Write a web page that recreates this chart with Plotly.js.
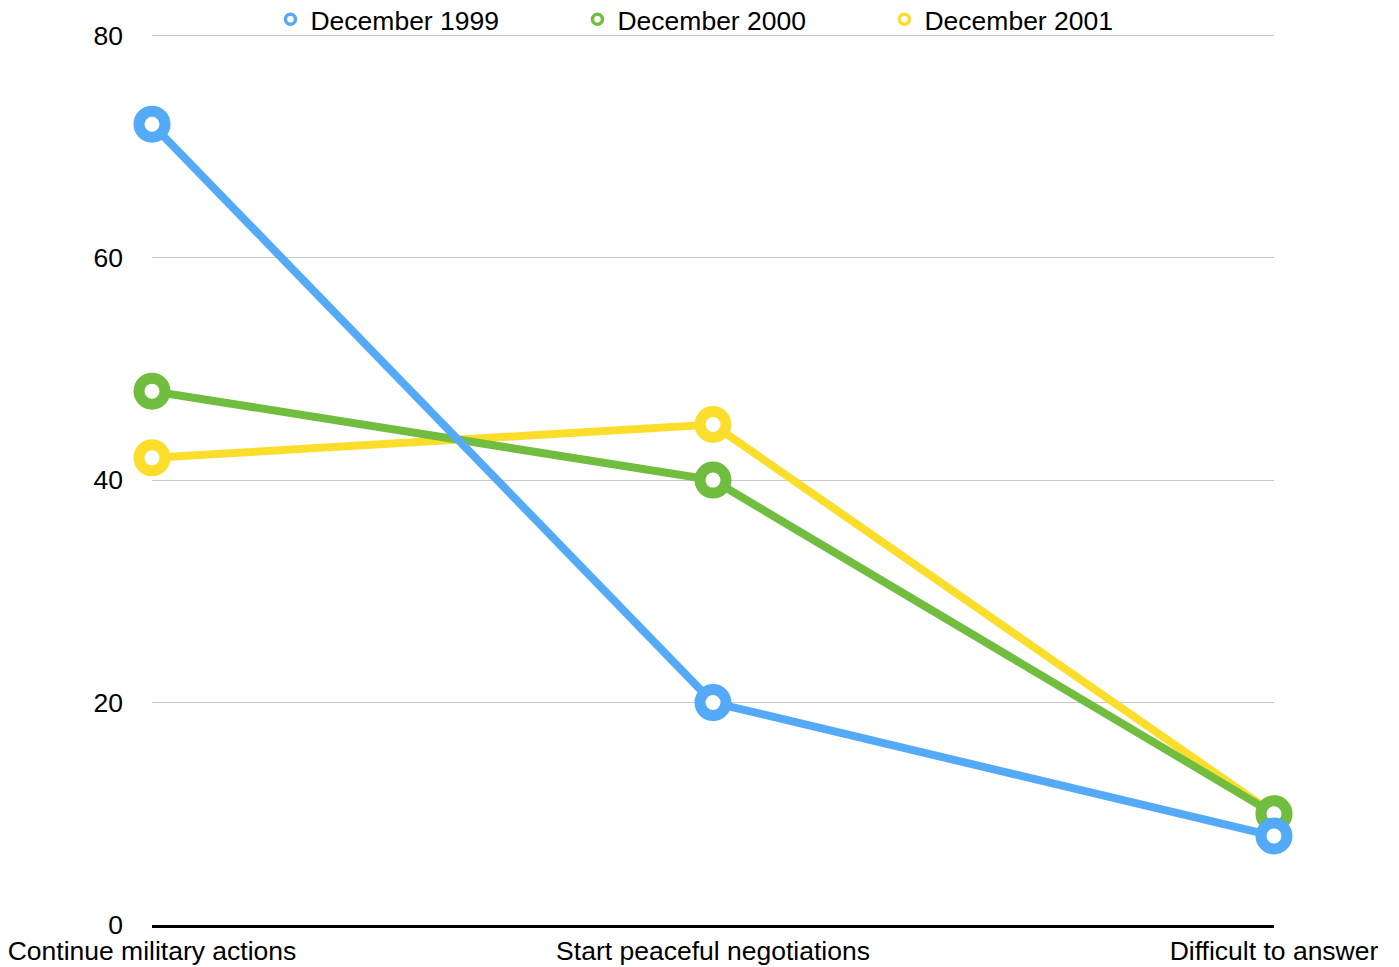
<!DOCTYPE html>
<html>
<head>
<meta charset="utf-8">
<script src="https://cdn.plot.ly/plotly-3.0.1.min.js"></script>
<style>html,body{margin:0;padding:0;background:#fff;}#chart{width:1399px;height:967px;}</style>
</head>
<body>
<div id="chart"></div>
<script>
const categories = ["Continue military actions", "Start peaceful negotiations", "Difficult to answer"];
const seriesNames = ["December 1999", "December 2000", "December 2001"];
const dec1999 = [72, 20, 8];
const dec2000 = [48, 40, 10];
const dec2001 = [42, 45, 10];
const yTicks = [0, 20, 40, 60, 80];

const colors = ["#55aaf8", "#70bd3f", "#fbde2c"];
const values = [dec1999, dec2000, dec2001];
const font = "Liberation Sans, Arial, Helvetica, sans-serif";
const fs = 26.5;

const traces = [];
// draw order: 2001 at bottom, 1999 on top
for (let i = 2; i >= 0; i--) {
  traces.push({
    x: categories, y: values[i], type: "scatter", mode: "lines+markers",
    name: seriesNames[i], showlegend: false,
    line: {color: colors[i], width: 8},
    marker: {size: 26, color: "#ffffff", line: {color: colors[i], width: 11}},
    cliponaxis: false, hoverinfo: "skip"
  });
}
// legend-only entries (markers only)
for (let i = 0; i < 3; i++) {
  traces.push({
    x: [null], y: [null], type: "scatter", mode: "markers",
    name: seriesNames[i], showlegend: true,
    marker: {size: 10, color: "#ffffff", line: {color: colors[i], width: 3.5}}
  });
}

const layout = {
  width: 1399, height: 967,
  margin: {l: 152, r: 125, t: 33, b: 42, autoexpand: false},
  paper_bgcolor: "#ffffff", plot_bgcolor: "#ffffff",
  font: {family: font, size: fs, color: "#000000"},
  showlegend: true,
  legend: {
    orientation: "h", x: 0.516, xanchor: "center", xref: "paper",
    y: 1.015, yanchor: "middle", yref: "paper",
    entrywidth: 262, entrywidthmode: "pixels",
    font: {family: font, size: fs, color: "#000"},
    bgcolor: "rgba(0,0,0,0)", itemclick: false
  },
  xaxis: {
    type: "category", range: [0, 2], showgrid: false, zeroline: false,
    showline: true, linecolor: "#000000", linewidth: 2.5,
    ticks: "", ticklabelstandoff: 1,
    tickfont: {family: font, size: fs, color: "#000"},
    fixedrange: true
  },
  yaxis: {
    range: [0, 80.2], tickvals: yTicks, ticktext: yTicks.map(String),
    showgrid: true, gridcolor: "#c8c8c8", gridwidth: 1,
    zeroline: false, showline: false, ticks: "", ticklabelstandoff: 28,
    tickfont: {family: font, size: fs, color: "#000"},
    fixedrange: true
  }
};

Plotly.newPlot("chart", traces, layout, {displayModeBar: false, staticPlot: true});
</script>
</body>
</html>
